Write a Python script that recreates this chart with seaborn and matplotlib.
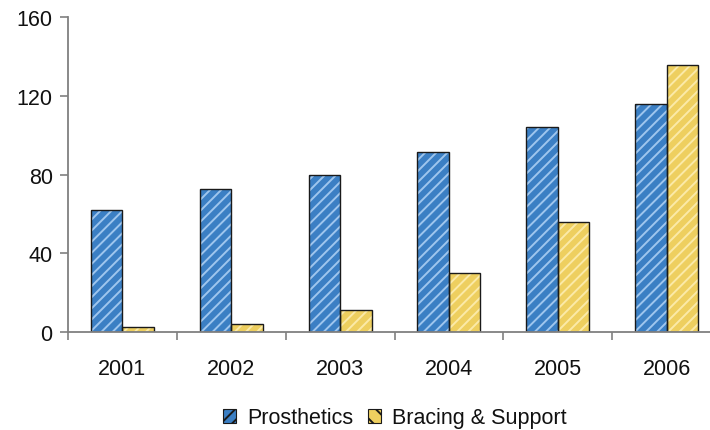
import matplotlib
matplotlib.use("Agg")
import matplotlib.pyplot as plt
from matplotlib.patches import Patch
import seaborn as sns
import pandas as pd

years = ["2001", "2002", "2003", "2004", "2005", "2006"]
prosthetics = [62, 72.5, 79.5, 91.5, 104, 116]
bracing = [2.5, 4, 11, 30, 56, 135.5]
series_names = ["Prosthetics", "Bracing & Support"]
y_ticks = [0, 40, 80, 120, 160]

df = pd.DataFrame({
    "year": years * 2,
    "value": prosthetics + bracing,
    "series": [series_names[0]] * len(years) + [series_names[1]] * len(years),
})

sns.set_style("white")
plt.rcParams["font.family"] = ["Liberation Sans", "DejaVu Sans"]
plt.rcParams["hatch.linewidth"] = 1.4

fills = {series_names[0]: "#3b7fc4", series_names[1]: "#eecf5f"}
hatch_cols = {series_names[0]: "#9fc6ee", series_names[1]: "#fbeaa8"}
FS = 15.5

fig = plt.figure(figsize=(7.10, 4.31), dpi=100)
ax = fig.add_axes([68 / 710, 98 / 431, (721 - 68) / 710, (333 - 18) / 431])

# pass 1: hatched fill
sns.barplot(data=df, x="year", y="value", hue="series", order=years,
            hue_order=series_names, palette=fills, width=0.58, gap=0,
            dodge=True, ax=ax, legend=False, linewidth=0, saturation=1)
n = len(years)
for i, p in enumerate(ax.patches[: 2 * n]):
    s = series_names[i // n]
    p.set_hatch("///")
    p.set_edgecolor(hatch_cols[s])
    p.set_linewidth(0)

# pass 2: dark outlines
sns.barplot(data=df, x="year", y="value", hue="series", order=years,
            hue_order=series_names, width=0.58, gap=0, dodge=True, ax=ax,
            legend=False, fill=False, color="black", linewidth=1.0,
            saturation=1)
for p in ax.patches[2 * n:]:
    p.set_edgecolor("#1a1a1a")
    p.set_facecolor("none")

ax.set_xlim(-0.5, len(years) - 0.5)
ax.set_ylim(0, 160)
ax.set_yticks(y_ticks)
ax.set_yticklabels([str(t) for t in y_ticks], fontsize=FS, color="#111111")
ax.set_xticks(range(len(years)))
ax.set_xticklabels(years, fontsize=FS, color="#111111")
ax.set_xticks([k - 0.5 for k in range(len(years) + 1)], minor=True)
ax.tick_params(axis="x", which="major", length=0, pad=19)
ax.tick_params(axis="x", which="minor", length=6, direction="out",
               color="#808080", width=1.2, bottom=True)
ax.tick_params(axis="y", length=6, direction="out", color="#808080",
               width=1.2, left=True, pad=5)
for side in ["top", "right"]:
    ax.spines[side].set_visible(False)
for side in ["left", "bottom"]:
    ax.spines[side].set_color("#808080")
    ax.spines[side].set_linewidth(1.3)
ax.set_xlabel("")
ax.set_ylabel("")

handles = [
    Patch(facecolor=fills[series_names[0]], edgecolor="#1a1a1a", hatch="///",
          linewidth=0.8),
    Patch(facecolor=fills[series_names[1]], edgecolor="#1a1a1a", hatch="\\\\",
          linewidth=0.8),
]
leg = fig.legend(handles, series_names, loc="center",
                 bbox_to_anchor=(0.556, 12 / 431),
                 bbox_transform=fig.transFigure, ncol=2, frameon=False,
                 fontsize=FS, handlelength=0.6, handleheight=0.6,
                 handletextpad=0.5, columnspacing=0.7)
for t in leg.get_texts():
    t.set_color("#111111")

fig.savefig("out.png", dpi=100)
